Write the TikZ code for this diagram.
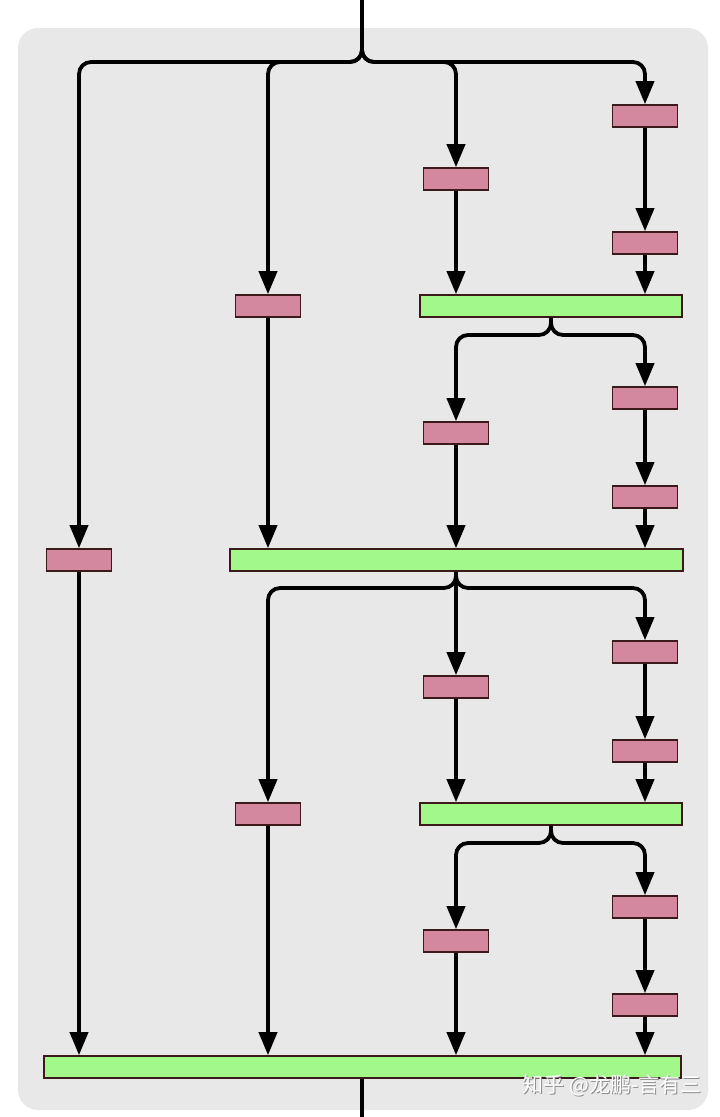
\documentclass[tikz,border=0pt]{standalone}
\usepackage{fontspec}
\newfontfamily\cjkfont{Noto Sans CJK SC}
\usetikzlibrary{arrows.meta}
\definecolor{bgc}{HTML}{E8E8E8}
\definecolor{pinkc}{HTML}{D3889F}
\definecolor{greenc}{HTML}{A2F98A}
\definecolor{edgec}{HTML}{3A1A1A}
\tikzset{
  pbox/.style={draw=edgec, line width=1.6pt, fill=pinkc, minimum width=65pt, minimum height=22pt, inner sep=0pt},
  gbar/.style={draw=edgec, line width=1.6pt, fill=greenc, minimum height=22pt, inner sep=0pt},
  flow/.style={line width=3.8pt, draw=black, -{Triangle[length=23pt,width=18pt]}},
  plain/.style={line width=3.8pt, draw=black},
  branch/.style={flow, rounded corners=12pt},
}
\begin{document}
\begin{tikzpicture}[x=1pt,y=-1pt]
\useasboundingbox (0,0) rectangle (720,1117);
\fill[bgc, rounded corners=20pt] (18,28) rectangle (708,1110);

% section 1
\node[pbox] (a1) at (645,116) {};
\node[pbox] (a2) at (645,243) {};
\node[pbox] (b1) at (456,179) {};
\node[pbox] (c1) at (268,306) {};
\node[gbar, minimum width=262pt] (G1) at (551,306) {};
% section 2
\node[pbox] (d1) at (645,398) {};
\node[pbox] (d2) at (645,497) {};
\node[pbox] (e1) at (456,433) {};
\node[pbox] (f1) at (79,560) {};
\node[gbar, minimum width=453pt] (G2) at (456.5,560) {};
% section 3
\node[pbox] (g1) at (645,652) {};
\node[pbox] (g2) at (645,751) {};
\node[pbox] (h1) at (456,687) {};
\node[pbox] (i1) at (268,814) {};
\node[gbar, minimum width=262pt] (G3) at (551,814) {};
% section 4
\node[pbox] (j1) at (645,907) {};
\node[pbox] (j2) at (645,1005) {};
\node[pbox] (k1) at (456,941) {};
\node[gbar, minimum width=637pt] (G4) at (362.5,1067) {};

\coordinate (in) at (362,0);
\coordinate (out) at (362,1117);

% top split
\draw[branch] (in) -- (362,62) -- (79,62) -- (f1.north);
\draw[branch] (in) -- (362,62) -- (268,62) -- (c1.north);
\draw[branch] (in) -- (362,62) -- (456,62) -- (b1.north);
\draw[branch] (in) -- (362,62) -- (645,62) -- (a1.north);
\draw[flow] (a1.south) -- (a2.north);
\draw[flow] (a2.south) -- (G1.north -| a2);
\draw[flow] (b1.south) -- (G1.north -| b1);
\draw[flow] (c1.south) -- (G2.north -| c1);

% second split
\draw[branch] (G1.south) -- (551,335) -- (456,335) -- (e1.north);
\draw[branch] (G1.south) -- (551,335) -- (645,335) -- (d1.north);
\draw[flow] (d1.south) -- (d2.north);
\draw[flow] (d2.south) -- (G2.north -| d2);
\draw[flow] (e1.south) -- (G2.north -| e1);
\draw[flow] (f1.south) -- (G4.north -| f1);

% third split
\draw[branch] (G2.south -| h1) -- (456,588) -- (268,588) -- (i1.north);
\draw[branch] (G2.south -| h1) -- (456,588) -- (645,588) -- (g1.north);
\draw[flow] (G2.south -| h1) -- (h1.north);
\draw[flow] (g1.south) -- (g2.north);
\draw[flow] (g2.south) -- (G3.north -| g2);
\draw[flow] (h1.south) -- (G3.north -| h1);
\draw[flow] (i1.south) -- (G4.north -| i1);

% fourth split
\draw[branch] (G3.south) -- (551,843) -- (456,843) -- (k1.north);
\draw[branch] (G3.south) -- (551,843) -- (645,843) -- (j1.north);
\draw[flow] (j1.south) -- (j2.north);
\draw[flow] (j2.south) -- (G4.north -| j2);
\draw[flow] (k1.south) -- (G4.north -| k1);

% output
\draw[plain] (G4.south -| out) -- (out);

% watermark
\node[text=black!45, font=\cjkfont\fontsize{21}{21}\selectfont, anchor=center] (wms) at (613.2,1086.2) {知乎 @龙鹏-言有三};
\node[text=white, font=\cjkfont\fontsize{21}{21}\selectfont, anchor=center] (wm) at (612,1085) {知乎 @龙鹏-言有三};
\end{tikzpicture}
\end{document}
